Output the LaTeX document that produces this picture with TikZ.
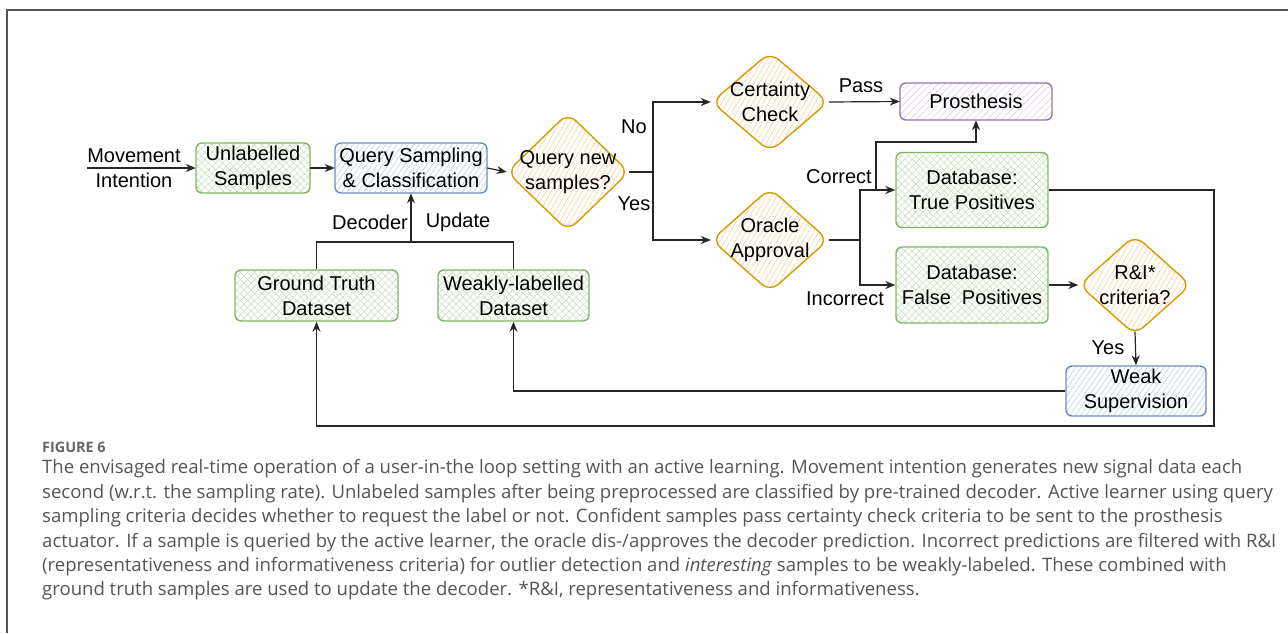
\documentclass[tikz,border=0pt]{standalone}
\usepackage{fontspec}
\usetikzlibrary{shapes.geometric,arrows.meta,patterns.meta}
\newfontfamily\arialf{Liberation Sans}
\newfontfamily\capf{Open Sans}
\newcommand\dfont{\arialf\fontsize{20}{25}\selectfont}
\newcommand\cfont{\capf\fontsize{18.55}{24}\selectfont}
\definecolor{bgreen}{HTML}{82B366}
\definecolor{hgreen}{HTML}{C2DDB6}
\definecolor{borange}{HTML}{D79B00}
\definecolor{horange}{HTML}{F8CFA2}
\definecolor{bblue}{HTML}{6C8EBF}
\definecolor{hblue}{HTML}{B7CDEE}
\definecolor{bpurple}{HTML}{9673A6}
\definecolor{hpurple}{HTML}{D6C6DE}
\definecolor{capgray}{HTML}{555555}
\definecolor{framegray}{HTML}{555555}
\tikzset{
  conn/.style={draw=black!85, line width=1.2pt},
  arr/.style={conn, -{Stealth[length=10pt,width=8pt]}},
  basebox/.style={line width=1.4pt, rounded corners=6pt, align=center, font=\dfont, inner sep=0pt},
  gbox/.style={basebox, draw=bgreen, pattern={Hatch[angle=45,distance=5pt,line width=0.5pt]}, pattern color=hgreen},
  bbox/.style={basebox, draw=bblue, pattern={Lines[angle=55,distance=4.5pt,line width=0.6pt]}, pattern color=hblue},
  pbox/.style={basebox, draw=bpurple, pattern={Lines[angle=45,distance=5pt,line width=0.5pt]}, pattern color=hpurple},
  dia/.style={diamond, draw=borange, line width=1.4pt, rounded corners=11pt, inner sep=0pt,
    pattern={Lines[angle=60,distance=4.5pt,line width=0.6pt]}, pattern color=horange},
  dtext/.style={font=\dfont, align=center},
  lab/.style={font=\dfont},
  capline/.style={font=\cfont, text=capgray, anchor=west, inner sep=0pt}
}
\begin{document}
\begin{tikzpicture}[x=1pt,y=-1pt]
\useasboundingbox (0,0) rectangle (1288,633);
% frame
\draw[framegray, line width=1.5pt] (7,633) -- (7,10) -- (1288,10);

% input text
\node[dtext] (mi) at (134,168) {Movement\\Intention};
\coordinate (mistart) at (87,168);

% boxes
\node[gbox, minimum width=114pt, minimum height=50pt] (us) at (253,168) {Unlabelled\\Samples};
\node[bbox, minimum width=152pt, minimum height=50pt] (qs) at (411,168) {Query Sampling\\\& Classification};
\node[dia, minimum width=122pt, minimum height=118pt, label={[dtext]center:{Query new\\samples?}}] (qn) at (568,172) {};
\node[dia, minimum width=117pt, minimum height=100pt, label={[dtext]center:{Certainty\\Check}}] (cc) at (770,102) {};
\node[dia, minimum width=117pt, minimum height=104pt, label={[dtext]center:{Oracle\\Approval}}] (oa) at (770,240) {};
\node[pbox, minimum width=152pt, minimum height=37pt] (pr) at (976,101.5) {Prosthesis};
\node[gbox, minimum width=152pt, minimum height=75pt] (tp) at (972,190) {Database:\\True Positives};
\node[gbox, minimum width=152pt, minimum height=76pt] (fp) at (972,285) {Database:\\False\ \ Positives};
\node[dia, minimum width=112pt, minimum height=100pt, label={[dtext]center:{R\&I*\\criteria?}}] (ri) at (1135,285) {};
\node[bbox, minimum width=140pt, minimum height=50pt] (ws) at (1136,391) {Weak\\Supervision};
\node[gbox, minimum width=163pt, minimum height=51pt] (gt) at (316.5,295.5) {Ground Truth\\Dataset};
\node[gbox, minimum width=151pt, minimum height=51pt] (wl) at (513.5,295.5) {Weakly-labelled\\Dataset};

% junction coordinates
\coordinate (j1) at (653,172);
\coordinate (j2) at (860,240);
\coordinate (j3) at (876,190);
\coordinate (j4) at (876,142);
\coordinate (k1) at (1214,190);
\coordinate (k2) at (1214,426);
\coordinate (m) at (411,242);

% connectors
\draw[arr] (mistart) -- (us.west);
\draw[arr] (us.east) -- (qs.west);
\draw[arr] (qs.east) -- (qn.west);
\draw[conn] (qn.east) -- (j1);
\draw[arr] (j1) |- (cc.west);
\draw[arr] (j1) |- (oa.west);
\draw[arr] (cc.east) -- (pr.west);
\draw[conn] (oa.east) -- (j2);
\draw[arr] (j2) |- (tp.west);
\draw[arr] (j2) |- (fp.west);
\draw[arr] (j3) -- (j4) -| (pr.south);
\draw[arr] (tp.east) -- (k1) -- (k2) -| (gt.south);
\draw[arr] (fp.east) -- (ri.west);
\draw[arr] ([yshift=4pt]ri.south) -- (ws.north);
\draw[arr] (ws.west) -| (wl.south);
\draw[conn] (gt.north) |- (m);
\draw[conn] (wl.north) |- (m);
\draw[arr] (m) -- (qs.south);

% labels
\node[lab] (lno) at (634,127) {No};
\node[lab] (lyes) at (634,204) {Yes};
\node[lab] (lpass) at (861,86) {Pass};
\node[lab] (lcor) at (839,177) {Correct};
\node[lab] (linc) at (845,299) {Incorrect};
\node[lab] (ldec) at (370,222) {Decoder};
\node[lab] (lupd) at (458,222) {Update};
\node[lab] (lyes2) at (1108,348) {Yes};

% caption
\node[font=\capf\bfseries\fontsize{14.4}{16}\selectfont, text=capgray!90, anchor=west, inner sep=0pt] (fig) at (42,447) {FIGURE 6};
\node[capline] (c1) at (42,469) {The envisaged real-time operation of a user-in-the loop setting with an active learning. Movement intention generates new signal data each};
\node[capline] (c2) at (42,494) {second (w.r.t. the sampling rate). Unlabeled samples after being preprocessed are classified by pre-trained decoder. Active learner using query};
\node[capline] (c3) at (42,518) {sampling criteria decides whether to request the label or not. Confident samples pass certainty check criteria to be sent to the prosthesis};
\node[capline] (c4) at (42,543) {actuator. If a sample is queried by the active learner, the oracle dis-/approves the decoder prediction. Incorrect predictions are filtered with R\&I};
\node[capline] (c5) at (42,567) {(representativeness and informativeness criteria) for outlier detection and \textit{interesting} samples to be weakly-labeled. These combined with};
\node[capline] (c6) at (42,591) {ground truth samples are used to update the decoder. *R\&I, representativeness and informativeness.};
\end{tikzpicture}
\end{document}
